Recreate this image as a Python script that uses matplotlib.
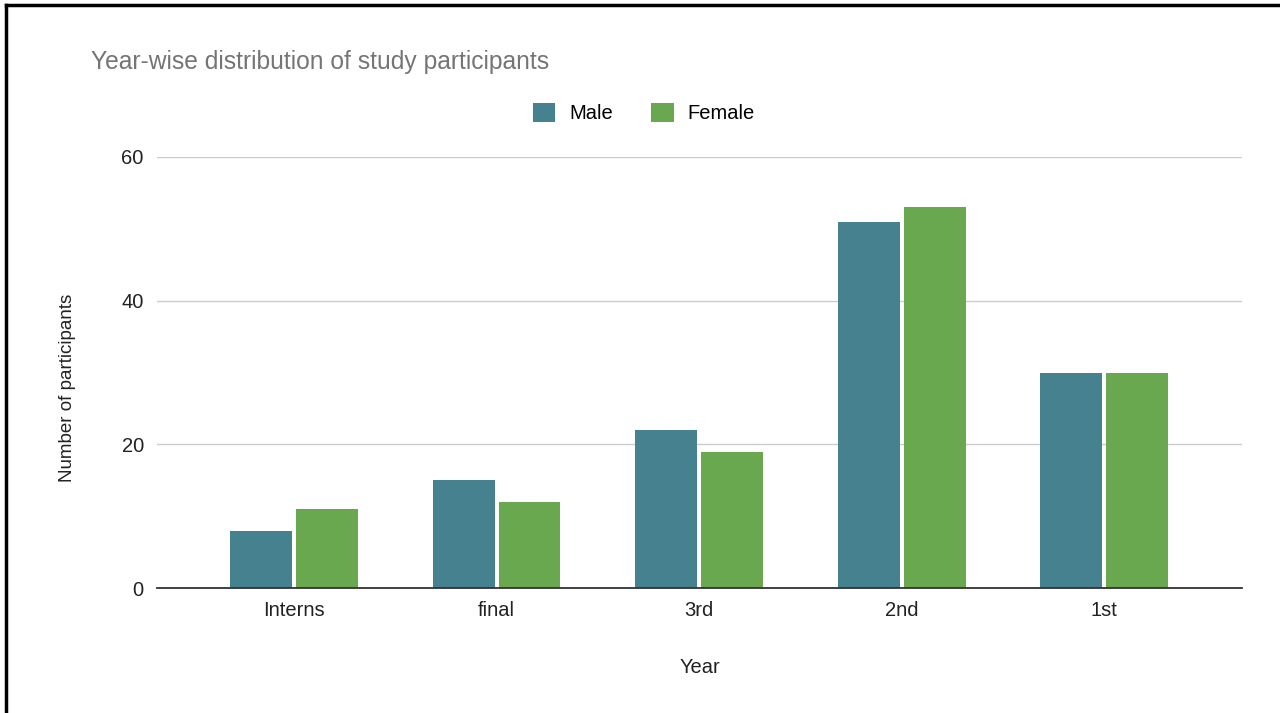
import numpy as np
import matplotlib.pyplot as plt
from matplotlib.lines import Line2D

plt.rcParams['font.family'] = ['Liberation Sans', 'DejaVu Sans']

years = ["Interns", "final", "3rd", "2nd", "1st"]
male = [8, 15, 22, 51, 30]
female = [11, 12, 19, 53, 30]

male_color = "#45818e"
female_color = "#6aa84f"

fig = plt.figure(figsize=(12.8, 7.13), dpi=100)
ax = fig.add_axes([157 / 1280, 1 - 588 / 713, (1242 - 157) / 1280, (588 - 157) / 713])

x = np.arange(len(years))
w = 0.305
ax.bar(x - w / 2 - 0.01, male, width=w, color=male_color, label="Male", zorder=3)
ax.bar(x + w / 2 + 0.01, female, width=w, color=female_color, label="Female", zorder=3)

ax.set_xlim(-0.677, len(years) - 1 + 0.68)
ax.set_ylim(0, 60)
ax.set_yticks([0, 20, 40, 60])
ax.set_xticks(x)
ax.set_xticklabels(years)
ax.tick_params(axis="both", length=0, labelsize=14.5, colors="#222222")
ax.tick_params(axis="y", pad=9.5)
ax.tick_params(axis="x", pad=9)
ax.grid(axis="y", color="#cccccc", linewidth=1, zorder=0)
for s in ["top", "right", "left"]:
    ax.spines[s].set_visible(False)
ax.spines["bottom"].set_color("#333333")
ax.spines["bottom"].set_linewidth(1.3)
ax.spines["bottom"].set_zorder(4)

ax.set_ylabel("Number of participants", fontsize=13.5, color="#222222")
ax.yaxis.set_label_coords(-0.0745, 0.464)
ax.set_xlabel("Year", fontsize=14.5, color="#222222", labelpad=28)

fig.text(91 / 1280, 1 - 62 / 713, "Year-wise distribution of study participants",
         fontsize=17.7, color="#757575", va="center", ha="left")

leg = fig.legend(loc="center", bbox_to_anchor=(644 / 1280, 1 - 113 / 713), ncol=2,
                 frameon=False, fontsize=14.5, handlelength=1.1, handleheight=1.1,
                 columnspacing=1.9, handletextpad=0.7)

# outer black frame (cropped screenshot border)
fig.add_artist(Line2D([6 / 1280, 6 / 1280], [0, 1 - 5 / 713], color="black", linewidth=2.5,
                      transform=fig.transFigure))
fig.add_artist(Line2D([6 / 1280, 1], [1 - 5 / 713, 1 - 5 / 713], color="black", linewidth=2.5,
                      transform=fig.transFigure))

plt.savefig("out.png", dpi=100)
plt.close()
